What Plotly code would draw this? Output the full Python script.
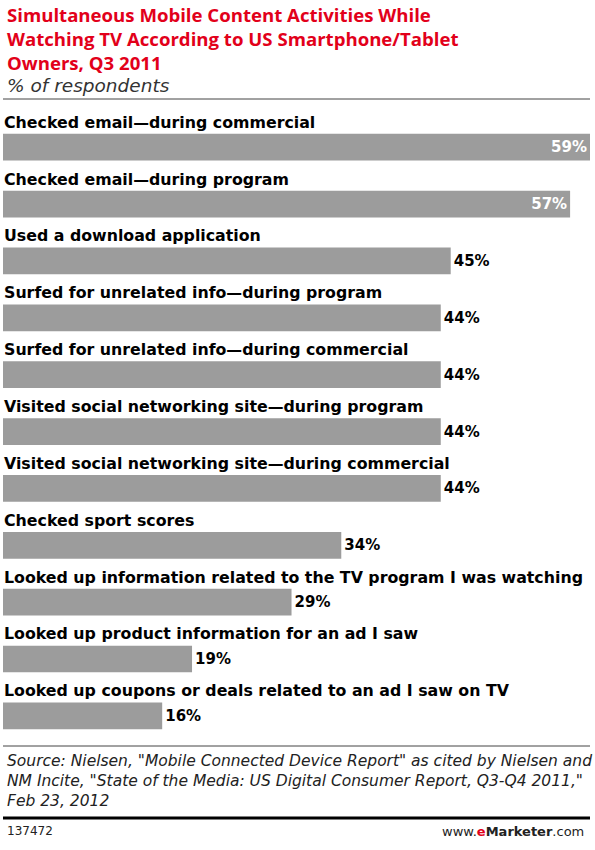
import plotly.graph_objects as go

activities = [
    "Checked email\u2014during commercial",
    "Checked email\u2014during program",
    "Used a download application",
    "Surfed for unrelated info\u2014during program",
    "Surfed for unrelated info\u2014during commercial",
    "Visited social networking site\u2014during program",
    "Visited social networking site\u2014during commercial",
    "Checked sport scores",
    "Looked up information related to the TV program I was watching",
    "Looked up product information for an ad I saw",
    "Looked up coupons or deals related to an ad I saw on TV",
]
pct = [59, 57, 45, 44, 44, 44, 44, 34, 29, 19, 16]

W, H = 595, 850
TOP, BOT = 96, 750  # plot area in pixels


def py(pix):
    # pixel row -> paper y
    return (BOT - pix) / (BOT - TOP)


n = len(activities)
ypos = [n - 1 - i for i in range(n)]
inside = [v >= 50 for v in pct]

fig = go.Figure()
fig.add_trace(go.Bar(
    x=pct, y=ypos, orientation="h", width=0.47,
    marker=dict(color="#9c9c9c", line=dict(width=0)),
    text=[f"<b>{v}%</b>" for v in pct],
    textposition=["inside" if f else "outside" for f in inside],
    insidetextanchor="end",
    textfont=dict(family="DejaVu Sans", size=15,
                  color=["white" if f else "black" for f in inside]),
    cliponaxis=False,
))

for name, yv in zip(activities, ypos):
    fig.add_annotation(x=0, y=yv + 0.44, xref="x", yref="y", text=f"<b>{name}</b>",
                       showarrow=False, xanchor="left", yanchor="middle", xshift=-1,
                       font=dict(family="DejaVu Sans", size=15.8, color="black"))

fig.add_annotation(
    x=0.004, xref="paper", y=py(0), yref="paper", xanchor="left", yanchor="top",
    text="<b>Simultaneous Mobile Content Activities While<br>Watching TV According to US Smartphone/Tablet<br>Owners, Q3 2011</b>",
    showarrow=False, align="left",
    font=dict(family="Open Sans", size=18.6, color="#e2001a"))
fig.add_annotation(
    x=0.004, xref="paper", y=py(85), yref="paper", xanchor="left", yanchor="middle",
    text="<i>% of respondents</i>", showarrow=False,
    font=dict(family="DejaVu Sans", size=18.5, color="#333333"))
fig.add_annotation(
    x=0.004, xref="paper", y=py(750), yref="paper", xanchor="left", yanchor="top",
    text="<i>Source: Nielsen, \"Mobile Connected Device Report\" as cited by Nielsen and<br>NM Incite, \"State of the Media: US Digital Consumer Report, Q3-Q4 2011,\"<br>Feb 23, 2012</i>",
    showarrow=False, align="left",
    font=dict(family="DejaVu Sans", size=15.5, color="#222222"))
fig.add_annotation(
    x=0.004, xref="paper", y=py(831), yref="paper", xanchor="left", yanchor="middle",
    text="137472", showarrow=False,
    font=dict(family="DejaVu Sans", size=12, color="#222222"))
fig.add_annotation(
    x=0.993, xref="paper", y=py(831), yref="paper", xanchor="right", yanchor="middle",
    text="www.<b><span style='color:#e2001a'>e</span>Marketer</b>.com", showarrow=False,
    font=dict(family="DejaVu Sans", size=13, color="#222222"))

fig.add_shape(type="line", xref="paper", yref="paper", x0=0, x1=1, y0=py(99), y1=py(99),
              line=dict(color="#444444", width=1))
fig.add_shape(type="line", xref="paper", yref="paper", x0=0, x1=1, y0=py(746), y1=py(746),
              line=dict(color="#444444", width=1))
fig.add_shape(type="line", xref="paper", yref="paper", x0=0, x1=1, y0=py(818), y1=py(818),
              line=dict(color="black", width=3))

fig.update_layout(
    width=W, height=H,
    margin=dict(l=3, r=5, t=TOP, b=H - BOT),
    paper_bgcolor="white", plot_bgcolor="white",
    showlegend=False,
    xaxis=dict(range=[0, 59], visible=False, fixedrange=True),
    yaxis=dict(range=[-0.6, n - 0.1], visible=False, fixedrange=True),
)

fig.write_html("out.html", config={"displayModeBar": False},
               post_script="document.body.style.margin='0';document.body.style.overflow='hidden';")
